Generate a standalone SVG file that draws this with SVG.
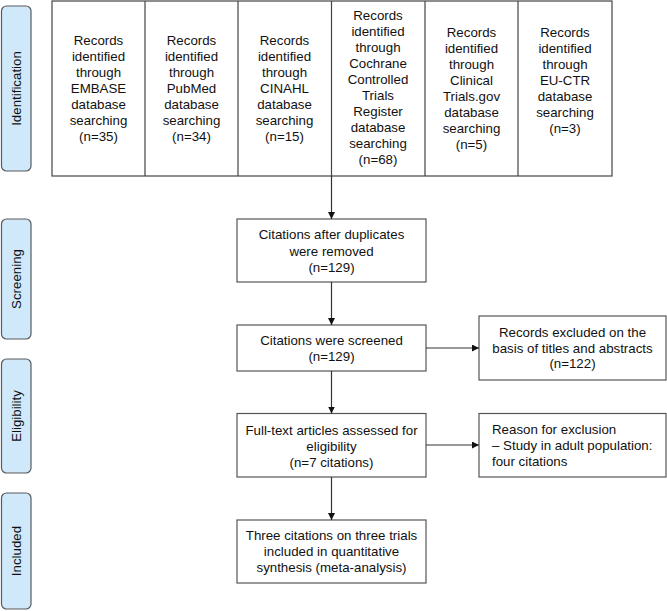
<svg xmlns="http://www.w3.org/2000/svg" width="667" height="611" viewBox="0 0 667 611">
<style>
text{font-family:"Liberation Sans",Arial,sans-serif;font-size:13.3px;fill:#111;}
.c{text-anchor:middle;}
.lab{fill:#cfe9fb;stroke:#5a5a5a;stroke-width:1.2;}
.box{fill:#fff;stroke:#555;stroke-width:1.2;}
.tbl{fill:none;stroke:#444;stroke-width:1.2;}
.con{stroke:#333;stroke-width:1.2;fill:none;marker-end:url(#ah);}
</style>
<defs>
<marker id="ah" viewBox="0 0 10 10" refX="10" refY="5" markerWidth="7" markerHeight="7" markerUnits="userSpaceOnUse" orient="auto">
<path d="M0,0 L10,5 L0,10 z" fill="#111"/>
</marker>
</defs>
<rect width="667" height="611" fill="#fff"/>

<g id="label-identification">
<rect class="lab" x="1.5" y="6" width="29.5" height="165" rx="5"/>
<text class="c" transform="translate(21,88.5) rotate(-90)">Identification</text>
</g>
<g id="label-screening">
<rect class="lab" x="1.5" y="219" width="29.5" height="120" rx="5"/>
<text class="c" transform="translate(21,279) rotate(-90)">Screening</text>
</g>
<g id="label-eligibility">
<rect class="lab" x="1.5" y="359" width="29.5" height="114" rx="5"/>
<text class="c" transform="translate(21,416) rotate(-90)">Eligibility</text>
</g>
<g id="label-included">
<rect class="lab" x="1.5" y="493" width="29.5" height="116" rx="5"/>
<text class="c" transform="translate(21,551) rotate(-90)">Included</text>
</g>

<g id="table">
<rect class="tbl" x="52" y="1" width="560" height="175"/>
<line class="tbl" x1="145" y1="1" x2="145" y2="176"/>
<line class="tbl" x1="238" y1="1" x2="238" y2="176"/>
<line class="tbl" x1="331.5" y1="1" x2="331.5" y2="176"/>
<line class="tbl" x1="425" y1="1" x2="425" y2="176"/>
<line class="tbl" x1="518" y1="1" x2="518" y2="176"/>
</g>

<g id="embase">
<text class="c" x="98.5" y="45">Records</text>
<text class="c" x="98.5" y="61">identified</text>
<text class="c" x="98.5" y="77">through</text>
<text class="c" x="98.5" y="93">EMBASE</text>
<text class="c" x="98.5" y="109">database</text>
<text class="c" x="98.5" y="125">searching</text>
<text class="c" x="98.5" y="141">(n=35)</text>
</g>
<g id="pubmed">
<text class="c" x="191.5" y="45">Records</text>
<text class="c" x="191.5" y="61">identified</text>
<text class="c" x="191.5" y="77">through</text>
<text class="c" x="191.5" y="93">PubMed</text>
<text class="c" x="191.5" y="109">database</text>
<text class="c" x="191.5" y="125">searching</text>
<text class="c" x="191.5" y="141">(n=34)</text>
</g>
<g id="cinahl">
<text class="c" x="284.5" y="45">Records</text>
<text class="c" x="284.5" y="61">identified</text>
<text class="c" x="284.5" y="77">through</text>
<text class="c" x="284.5" y="93">CINAHL</text>
<text class="c" x="284.5" y="109">database</text>
<text class="c" x="284.5" y="125">searching</text>
<text class="c" x="284.5" y="141">(n=15)</text>
</g>
<g id="cochrane">
<text class="c" x="378" y="19.5">Records</text>
<text class="c" x="378" y="35.5">identified</text>
<text class="c" x="378" y="51.5">through</text>
<text class="c" x="378" y="67.5">Cochrane</text>
<text class="c" x="378" y="83.5">Controlled</text>
<text class="c" x="378" y="99.5">Trials</text>
<text class="c" x="378" y="115.5">Register</text>
<text class="c" x="378" y="131.5">database</text>
<text class="c" x="378" y="147.5">searching</text>
<text class="c" x="378" y="163.5">(n=68)</text>
</g>
<g id="clinicaltrials">
<text class="c" x="471.5" y="36.5">Records</text>
<text class="c" x="471.5" y="52.5">identified</text>
<text class="c" x="471.5" y="68.5">through</text>
<text class="c" x="471.5" y="84.5">Clinical</text>
<text class="c" x="471.5" y="100.5">Trials.gov</text>
<text class="c" x="471.5" y="116.5">database</text>
<text class="c" x="471.5" y="132.5">searching</text>
<text class="c" x="471.5" y="148.5">(n=5)</text>
</g>
<g id="euctr">
<text class="c" x="565" y="36.5">Records</text>
<text class="c" x="565" y="52.5">identified</text>
<text class="c" x="565" y="68.5">through</text>
<text class="c" x="565" y="84.5">EU-CTR</text>
<text class="c" x="565" y="100.5">database</text>
<text class="c" x="565" y="116.5">searching</text>
<text class="c" x="565" y="132.5">(n=3)</text>
</g>

<g id="duplicates">
<rect class="box" x="237" y="219" width="189" height="63"/>
<text class="c" x="331.5" y="238.7">Citations after duplicates</text>
<text class="c" x="331.5" y="255.5">were removed</text>
<text class="c" x="331.5" y="272">(n=129)</text>
</g>
<g id="screened">
<rect class="box" x="237" y="325" width="189" height="46"/>
<text class="c" x="331.5" y="344.7">Citations were screened</text>
<text class="c" x="331.5" y="360.7">(n=129)</text>
</g>
<g id="excluded1">
<rect class="box" x="479" y="316" width="187" height="64"/>
<text class="c" x="572.5" y="336.7">Records excluded on the</text>
<text class="c" x="572.5" y="352.7">basis of titles and abstracts</text>
<text class="c" x="572.5" y="368">(n=122)</text>
</g>
<g id="fulltext">
<rect class="box" x="237" y="413.5" width="189" height="63.5"/>
<text class="c" x="331.5" y="434.7">Full-text articles assessed for</text>
<text class="c" x="331.5" y="450.7">eligibility</text>
<text class="c" x="331.5" y="466.7">(n=7 citations)</text>
</g>
<g id="excluded2">
<rect class="box" x="479" y="413.5" width="187" height="63.5"/>
<text x="492" y="433.7">Reason for exclusion</text>
<text x="492" y="449.7">– Study in adult population:</text>
<text x="492" y="465.7">four citations</text>
</g>
<g id="included">
<rect class="box" x="237" y="520" width="189" height="63"/>
<text class="c" x="331.5" y="539.7">Three citations on three trials</text>
<text class="c" x="331.5" y="555.7">included in quantitative</text>
<text class="c" x="331.5" y="571.7">synthesis (meta-analysis)</text>
</g>

<g id="connectors">
<line class="con" x1="331.5" y1="176" x2="331.5" y2="219"/>
<line class="con" x1="331.5" y1="282" x2="331.5" y2="325"/>
<line class="con" x1="331.5" y1="371" x2="331.5" y2="413.5"/>
<line class="con" x1="331.5" y1="477" x2="331.5" y2="520"/>
<line class="con" x1="426" y1="348" x2="479" y2="348"/>
<line class="con" x1="426" y1="445" x2="479" y2="445"/>
</g>
</svg>
